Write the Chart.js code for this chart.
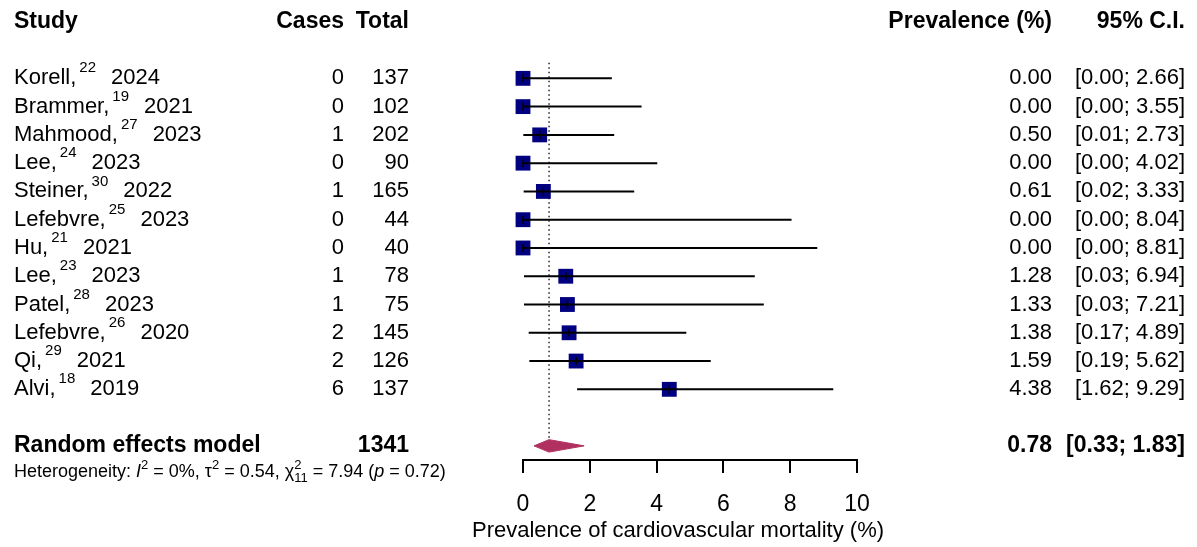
<!DOCTYPE html>
<html>
<head>
<meta charset="utf-8">
<script src="https://cdn.jsdelivr.net/npm/chart.js@4.4.1/dist/chart.umd.min.js"></script>
<style>
  body { margin: 0; background: #fff; }
  #wrap { width: 1197px; height: 547px; }
</style>
</head>
<body>
<div id="wrap"><canvas id="forest" width="1197" height="547"></canvas></div>
<script>
const studies = ['Korell', 'Brammer', 'Mahmood', 'Lee', 'Steiner', 'Lefebvre', 'Hu', 'Lee', 'Patel', 'Lefebvre', 'Qi', 'Alvi'];
const refs = ['22', '19', '27', '24', '30', '25', '21', '23', '28', '26', '29', '18'];
const years = ['2024', '2021', '2023', '2023', '2022', '2023', '2021', '2023', '2023', '2020', '2021', '2019'];
const cases = [0, 0, 1, 0, 1, 0, 0, 1, 1, 2, 2, 6];
const totals = [137, 102, 202, 90, 165, 44, 40, 78, 75, 145, 126, 137];
const prevalence = [0.00, 0.00, 0.50, 0.00, 0.61, 0.00, 0.00, 1.28, 1.33, 1.38, 1.59, 4.38];
const lower = [0.00, 0.00, 0.01, 0.00, 0.02, 0.00, 0.00, 0.03, 0.03, 0.17, 0.19, 1.62];
const upper = [2.66, 3.55, 2.73, 4.02, 3.33, 8.04, 8.81, 6.94, 7.21, 4.89, 5.62, 9.29];
const pooled = [0.78, 0.33, 1.83]; // estimate, lower, upper
const pooledTotal = 1341;
const xTicks = [0, 2, 4, 6, 8, 10];
const xTitle = 'Prevalence of cardiovascular mortality (%)';

const rowRE = 13;     // row of the random effects model
const rowHeader = -2; // header row

const FONT = '"Liberation Sans", Arial, sans-serif';
const REG = '22px ' + FONT;
const BOLD = 'bold 23px ' + FONT;

// column right edges
const colCases = 344, colTotal = 409, colPrev = 1052, colCI = 1185;

// confidence interval lines, one dataset per study
const ciSets = studies.map((s, i) => ({
  type: 'line',
  data: [{x: lower[i], y: i}, {x: upper[i], y: i}],
  borderColor: '#000',
  borderWidth: 2,
  pointRadius: 0,
  order: 1
}));

const fmt = v => v.toFixed(2);

const textPlugin = {
  id: 'forestText',
  afterDraw(chart) {
    const ctx = chart.ctx;
    const ys = chart.scales.y;
    ctx.save();
    ctx.fillStyle = '#000';
    ctx.textBaseline = 'middle';

    // header
    let y = ys.getPixelForValue(rowHeader);
    ctx.font = BOLD;
    ctx.textAlign = 'left';
    ctx.fillText('Study', 14, y);
    ctx.textAlign = 'right';
    ctx.fillText('Cases', colCases, y);
    ctx.fillText('Total', colTotal, y);
    ctx.fillText('Prevalence (%)', colPrev, y);
    ctx.fillText('95% C.I.', colCI, y);

    // study rows
    studies.forEach((s, i) => {
      y = ys.getPixelForValue(i);
      ctx.textAlign = 'left';
      ctx.font = REG;
      const name = s + ',';
      ctx.fillText(name, 14, y);
      let x = 14 + ctx.measureText(name).width + 3;
      ctx.font = '15px ' + FONT;
      ctx.fillText(refs[i], x, y - 10);
      x += ctx.measureText(refs[i]).width + 15;
      ctx.font = REG;
      ctx.fillText(years[i], x, y);
      ctx.textAlign = 'right';
      ctx.fillText(String(cases[i]), colCases, y);
      ctx.fillText(String(totals[i]), colTotal, y);
      ctx.fillText(fmt(prevalence[i]), colPrev, y);
      ctx.fillText('[' + fmt(lower[i]) + '; ' + fmt(upper[i]) + ']', colCI, y);
    });

    // random effects row
    y = ys.getPixelForValue(rowRE);
    ctx.font = BOLD;
    ctx.textAlign = 'left';
    ctx.fillText('Random effects model', 14, y);
    ctx.textAlign = 'right';
    ctx.fillText(String(pooledTotal), colTotal, y);
    ctx.fillText(fmt(pooled[0]), colPrev, y);
    ctx.fillText('[' + fmt(pooled[1]) + '; ' + fmt(pooled[2]) + ']', colCI, y);

    // heterogeneity line
    y = 472;
    ctx.textAlign = 'left';
    let x = 14;
    const run = (t, font, dy) => {
      ctx.font = font;
      ctx.fillText(t, x, y + (dy || 0));
      x += ctx.measureText(t).width;
    };
    const reg = '18px ' + FONT, ita = 'italic 18px ' + FONT, small = '13px ' + FONT;
    run('Heterogeneity: ', reg);
    run('I', ita);
    run('2', small, -7);
    run(' = 0%, \u03C4', reg);
    run('2', small, -7);
    run(' = 0.54, \u03C7', reg);
    const xs = x;
    run('2', small, -7);
    x = xs;
    run('11', small, 6);
    run(' = 7.94 (', reg);
    run('p', ita);
    run(' = 0.72)', reg);

    // x axis title
    ctx.font = '22px ' + FONT;
    ctx.textAlign = 'center';
    ctx.fillText(xTitle, 678, 531);
    ctx.restore();
  }
};

new Chart(document.getElementById('forest'), {
  type: 'scatter',
  data: {
    datasets: [
      // small vertical mark at each estimate
      {
        data: prevalence.map((v, i) => ({x: v, y: i})),
        pointStyle: 'line',
        rotation: 90,
        pointRadius: 4,
        borderColor: '#000',
        borderWidth: 1.5,
        clip: false,
        order: 0
      },
      ...ciSets,
      // study squares
      {
        data: prevalence.map((v, i) => ({x: v, y: i})),
        pointStyle: 'rect',
        pointRadius: 10.5,
        backgroundColor: '#000080',
        borderColor: '#000080',
        borderWidth: 0,
        clip: false,
        order: 2
      },
      // pooled estimate dotted line
      {
        type: 'line',
        data: [{x: pooled[0], y: -0.55}, {x: pooled[0], y: rowRE - 0.22}],
        borderColor: '#000',
        borderWidth: 1.3,
        borderDash: [1.5, 3],
        pointRadius: 0,
        order: 3
      },
      // pooled diamond
      {
        type: 'line',
        data: [
          {x: pooled[1], y: rowRE},
          {x: pooled[0], y: rowRE - 0.22},
          {x: pooled[2], y: rowRE},
          {x: pooled[0], y: rowRE + 0.22},
          {x: pooled[1], y: rowRE}
        ],
        borderColor: '#B0305F',
        backgroundColor: '#B0305F',
        borderWidth: 1,
        fill: 'shape',
        pointRadius: 0,
        tension: 0,
        order: 4
      }
    ]
  },
  options: {
    responsive: false,
    animation: false,
    layout: { padding: { left: 523, right: 340, top: 1.5, bottom: 0 } },
    plugins: { legend: { display: false }, tooltip: { enabled: false } },
    scales: {
      x: {
        type: 'linear',
        min: 0,
        max: 10,
        afterBuildTicks: s => { s.ticks = xTicks.map(v => ({value: v})); },
        afterFit: s => { s.height = 87; },
        grid: { drawOnChartArea: false, tickLength: 13, color: '#000', lineWidth: 2 },
        border: { color: '#000', width: 2 },
        ticks: { color: '#000', font: { family: FONT, size: 23 }, padding: 18 },
        title: { display: false }
      },
      y: {
        type: 'linear',
        display: false,
        reverse: true,
        min: -2.4,
        max: 13.5
      }
    }
  },
  plugins: [textPlugin]
});
</script>
</body>
</html>
